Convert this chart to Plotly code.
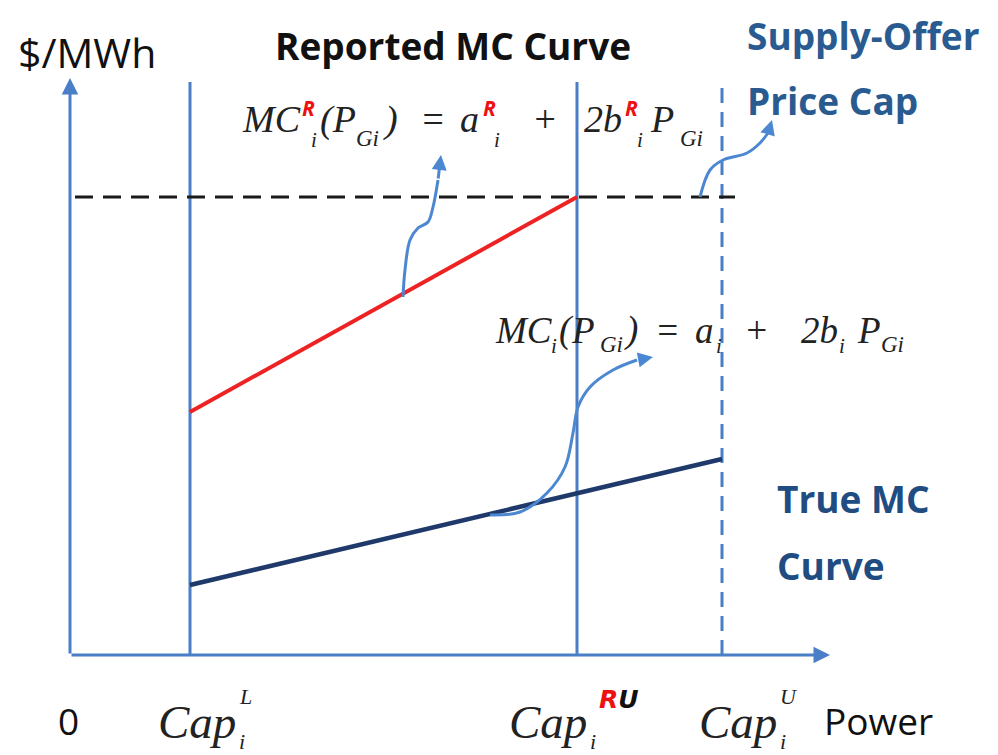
import plotly.graph_objects as go

# ---- diagram values (power on x, $/MWh on y, origin at the axes corner) ----
cap_names = ["L", "RU", "U"]
cap_power = [120, 507, 652]          # Cap_i^L, Cap_i^RU, Cap_i^U
axis_top = 573                       # height of the price axis arrow
axis_right = 760                     # length of the power axis arrow
price_cap = 458                      # supply-offer price cap

reported_power = [120, 507]          # reported MC curve
reported_price = [243, 458]
true_power = [120, 652]              # true MC curve
true_price = [70, 196]

# pointer curves (power, price)
ptr1_x = [333, 335, 340, 348, 358, 363, 368, 371]
ptr1_y = [358, 385, 415, 427, 433, 448, 475, 500]
ptr2_x = [420, 450, 477, 495, 503, 508, 520, 543, 567, 583]
ptr2_y = [140, 143, 162, 188, 222, 248, 268, 285, 295, 298]
ptr3_x = [630, 640, 653, 677, 690, 698, 702]
ptr3_y = [458, 485, 495, 502, 512, 522, 535]

AXIS_BLUE = "#4A7EC7"
PTR_BLUE = "#4C88D2"
TEXT_BLUE = "#2A5B90"
RED = "#EE1111"
INK = "#222222"
SERIF = "Liberation Serif"
SANS = "Open Sans"

X0, Y0 = 70, 655  # page position of the origin


def px(x):
    return x - X0


def py(y):
    return Y0 - y


fig = go.Figure()

# vertical capacity lines
for name, p in zip(cap_names, cap_power):
    fig.add_trace(go.Scatter(
        x=[p, p], y=[0, axis_top], mode="lines",
        line=dict(color=AXIS_BLUE, width=3, dash="15px,9px" if name == "U" else "solid"),
        hoverinfo="skip", showlegend=False))

# price cap
fig.add_trace(go.Scatter(
    x=[5, 665], y=[price_cap, price_cap], mode="lines",
    line=dict(color="#1a1a1a", width=3, dash="18px,10px"),
    hoverinfo="skip", showlegend=False))

# MC curves
fig.add_trace(go.Scatter(x=reported_power, y=reported_price, mode="lines",
                         line=dict(color="#EE2222", width=4),
                         hoverinfo="skip", showlegend=False))
fig.add_trace(go.Scatter(x=true_power, y=true_price, mode="lines",
                         line=dict(color="#1F3A6A", width=4.5),
                         hoverinfo="skip", showlegend=False))

# pointer curves
for xs, ys in [(ptr1_x, ptr1_y), (ptr2_x, ptr2_y), (ptr3_x, ptr3_y)]:
    fig.add_trace(go.Scatter(x=xs[:-1], y=ys[:-1], mode="lines",
                             line=dict(color=PTR_BLUE, width=3, shape="spline"),
                             hoverinfo="skip", showlegend=False))

annotations = []


def arrow(x0, y0, x1, y1, color, width, size=1.0):
    annotations.append(dict(
        x=x1, y=y1, ax=x0, ay=y0, xref="x", yref="y", axref="x", ayref="y",
        text="", showarrow=True, arrowhead=2, arrowsize=size,
        arrowwidth=width, arrowcolor=color, standoff=0, startstandoff=0))


# axes with arrow heads
arrow(0, 0, 0, axis_top + 4, AXIS_BLUE, 3, 1.1)
arrow(0, 0, axis_right, 0, AXIS_BLUE, 3, 1.1)

# pointer heads
for xs, ys in [(ptr1_x, ptr1_y), (ptr2_x, ptr2_y), (ptr3_x, ptr3_y)]:
    arrow(xs[-2], ys[-2], xs[-1], ys[-1], PTR_BLUE, 3, 1.0)


def label(text, x, y, size, family=SANS, color="#111111", anchor="left"):
    annotations.append(dict(
        x=px(x), y=py(y), xref="x", yref="y", text=text, showarrow=False,
        xanchor=anchor, yanchor="middle",
        font=dict(family=family, size=size, color=color)))


def math(text, x, y, size):
    label(f"<i>{text}</i>", x, y, size, family=SERIF, color=INK)


def sup_r(x, y):
    label("<b><i>R</i></b>", x, y, 21, family=SANS, color=RED)


label("$/MWh", 16, 52, 41)
label("<b>Reported MC Curve</b>", 453, 45, 37, anchor="center")
label("<b>Supply-Offer</b>", 745, 35, 37, color=TEXT_BLUE)
label("<b>Price Cap</b>", 745, 100, 37, color=TEXT_BLUE)
label("<b>True MC</b>", 775, 498, 37, color="#204C82")
label("<b>Curve</b>", 775, 565, 37, color="#204C82")

# reported MC formula
F1, S1, U1, B1 = 119, 140, 108, 38
math("MC", 240, F1, B1)
sup_r(300, U1)
math("i", 309, S1, 21)
math("(P", 318, F1, B1)
math("Gi", 354, S1 - 2, 23)
math(")", 381, F1, B1)
math("=", 418, F1, B1)
math("a", 458, F1, B1)
sup_r(481, U1)
math("i", 492, S1, 21)
math("+", 530, F1, B1)
math("2b", 582, F1, B1)
sup_r(623, U1)
math("i", 635, S1, 21)
math("P", 648, F1, B1)
math("Gi", 678, S1 - 2, 23)

# true MC formula
F2, S2, B2 = 330, 346, 37
math("MC", 493, F2, B2)
math("i", 549, S2, 21)
math("(", 557, F2, B2)
math("P", 569, F2, B2)
math("Gi", 598, S2 - 2, 23)
math(")", 622, F2, B2)
math("=", 653, F2, B2)
math("a", 693, F2, B2)
math("i", 714, S2, 21)
math("+", 742, F2, B2)
math("2b", 799, F2, B2)
math("i", 837, S2, 21)
math("P", 855, F2, B2)
math("Gi", 879, S2 - 2, 23)

# capacity tick labels
label("0", 68, 720, 37, anchor="center")
label("Power", 822, 720, 37)
cap_left = [156, 507, 697]
for name, xl in zip(cap_names, cap_left):
    math("Cap", xl, 722, 47)
    math("i", xl + 81, 741, 22)
    if name == "RU":
        label(f"<i><b><span style='color:{RED}'>R</span>U</b></i>", 597, 699, 25,
              family="DejaVu Sans", color="#111111")
    else:
        math(name, xl + 81, 696, 22)

fig.update_layout(
    width=998, height=755, margin=dict(l=0, r=0, t=0, b=0),
    paper_bgcolor="white", plot_bgcolor="white",
    xaxis=dict(range=[-X0, 998 - X0], visible=False, fixedrange=True),
    yaxis=dict(range=[Y0 - 755, Y0], visible=False, fixedrange=True),
    annotations=annotations, showlegend=False)

fig.write_html("out.html")
